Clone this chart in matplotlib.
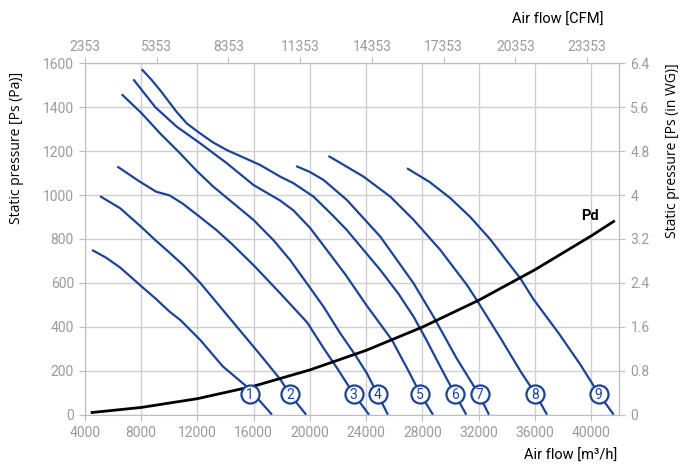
"""
Curvas de ventiladores: presión estática frente a caudal, con curva Pd.
"""
import matplotlib
matplotlib.use("Agg")
import matplotlib.pyplot as plt

# caudal [m3/h] y presión estática [Pa]
c1_x = [4500, 5500, 6500, 7300, 8000, 9000, 10000, 10800, 12200, 13800, 15500, 16400, 17300]
c1_p = [750, 715, 670, 625, 585, 530, 470, 430, 340, 220, 128, 65, 0]

c2_x = [5070, 6500, 8000, 9000, 9800, 11000, 12200, 13500, 15000, 16500, 17900, 18600, 19730]
c2_p = [995, 940, 855, 795, 750, 680, 600, 500, 385, 270, 160, 90, 0]

c3_x = [6300, 7900, 9070, 10000, 10950, 12180, 13360, 14400, 16000, 17880, 19800, 21000, 22000, 23100, 24200]
c3_p = [1130, 1061, 1015, 999, 961, 900, 840, 780, 680, 553, 420, 300, 205, 95, 0]

c4_x = [6610, 8035, 9338, 10762, 11950, 13130, 14320, 15980, 17400, 18590, 19780, 20960, 22150, 23220, 24050, 24800, 25544]
c4_p = [1459, 1372, 1281, 1190, 1110, 1038, 975, 887, 795, 704, 598, 492, 371, 272, 188, 95, 0]

c5_x = [7440, 9000, 10530, 12185, 14085, 15980, 17880, 18826, 20015, 21200, 22500, 24000, 25830, 27000, 27843, 28747]
c5_p = [1527, 1400, 1311, 1236, 1145, 1046, 975, 930, 850, 750, 640, 500, 340, 200, 95, 0]

c6_x = [8035, 8700, 9338, 10500, 11240, 12185, 13100, 14085, 16456, 17880, 18826, 20250, 21500, 22620, 25000, 26300, 27370, 28200, 29300, 30300, 31117]
c6_p = [1573, 1527, 1478, 1380, 1326, 1281, 1240, 1205, 1137, 1084, 1054, 993, 915, 841, 659, 550, 446, 350, 215, 95, 0]

c7_x = [19018, 20000, 20960, 22620, 25000, 27370, 28790, 30400, 31990, 32733]
c7_p = [1132, 1105, 1069, 978, 811, 598, 446, 260, 95, 0]

c8_x = [21317, 23810, 25710, 27370, 29270, 31170, 31880, 33540, 35000, 36030, 36860]
c8_p = [1178, 1084, 993, 887, 750, 590, 520, 350, 195, 95, 0]

c9_x = [26900, 28500, 30000, 31400, 32800, 34000, 34960, 35900, 37700, 39230, 40530, 41600]
c9_p = [1122, 1060, 985, 900, 800, 700, 621, 525, 370, 228, 95, 0]

curvas = [(c1_x, c1_p), (c2_x, c2_p), (c3_x, c3_p), (c4_x, c4_p), (c5_x, c5_p),
          (c6_x, c6_p), (c7_x, c7_p), (c8_x, c8_p), (c9_x, c9_p)]

# posición de las etiquetas numeradas
etiq_x = [15744, 18590, 23100, 24830, 27843, 30330, 32060, 36030, 40530]
etiq_p = 95

# curva de presión dinámica
pd_x = [4500, 8000, 12000, 16000, 20000, 24000, 28000, 32000, 36000, 40000, 41600]
pd_p = [10, 33, 73, 130, 204, 293, 399, 521, 660, 814, 880]

x_ticks = [4000, 8000, 12000, 16000, 20000, 24000, 28000, 32000, 36000, 40000]
y_ticks = [0, 200, 400, 600, 800, 1000, 1200, 1400, 1600]
cfm_ticks = [2353, 5353, 8353, 11353, 14353, 17353, 20353, 23353]
wg_ticks = [0, 0.8, 1.6, 2.4, 3.2, 4, 4.8, 5.6, 6.4]

AZUL = "#1c4496"
GRIS = "#bdbdbd"
GRIS_TXT = "#9b9b9b"
M3H_CFM = 1.7
PA_WG = 250.0

plt.rcParams["font.family"] = ["Roboto", "DejaVu Sans"]

fig = plt.figure(figsize=(6.81, 4.65), dpi=100)
ax = fig.add_axes([0.1248, 0.1082, 0.7846, 0.7557])

for cx, cp in curvas:
    ax.plot(cx, cp, color=AZUL, lw=1.6, solid_capstyle="butt", zorder=3)

ax.plot(pd_x, pd_p, color="black", lw=2.0, zorder=4)
ax.text(39940, 903, "Pd", ha="center", va="center", fontsize=10.5,
        fontweight="bold", color="black")

for i, ex in enumerate(etiq_x):
    ax.plot(ex, etiq_p, "o", ms=13, mfc="white", mec=AZUL, mew=1.6, zorder=5)
    ax.text(ex, etiq_p - 4, str(i + 1), ha="center", va="center", color=AZUL,
            fontsize=10, zorder=6)

ax.set_xlim(4000, 42000)
ax.set_ylim(0, 1600)
ax.set_xticks(x_ticks)
ax.set_yticks(y_ticks)
ax.grid(True, color="#cfcfcf", lw=1)
ax.set_axisbelow(True)
for s in ax.spines.values():
    s.set_color(GRIS)
ax.tick_params(colors=GRIS, labelcolor=GRIS_TXT, labelsize=10, length=4, pad=4)

top = ax.secondary_xaxis("top", functions=(lambda x: x / M3H_CFM, lambda c: c * M3H_CFM))
top.set_xticks(cfm_ticks)
top.spines["top"].set_color(GRIS)
top.tick_params(colors=GRIS, labelcolor=GRIS_TXT, labelsize=10, length=4, pad=3)

der = ax.secondary_yaxis("right", functions=(lambda p: p / PA_WG, lambda w: w * PA_WG))
der.set_yticks(wg_ticks)
der.set_yticklabels(["%g" % v for v in wg_ticks])
der.spines["right"].set_color(GRIS)
der.tick_params(colors=GRIS, labelcolor=GRIS_TXT, labelsize=10, length=4, pad=4)

fig.text(604 / 681, 1 - 20 / 465, "Air flow [CFM]", ha="right", va="center", fontsize=10.5)
fig.text(617 / 681, 1 - 456 / 465, "Air flow [m³/h]", ha="right", va="center", fontsize=10.5)
fig.text(17 / 681, 1 - 148 / 465, "Static pressure [Ps (Pa)]", rotation=90,
         ha="center", va="center", fontsize=10, family=["Open Sans", "DejaVu Sans"])
fig.text(673 / 681, 1 - 151 / 465, "Static pressure [Ps (in WG)]", rotation=90,
         ha="center", va="center", fontsize=10, family=["Open Sans", "DejaVu Sans"])

plt.savefig("out.png", dpi=100)
plt.close()
